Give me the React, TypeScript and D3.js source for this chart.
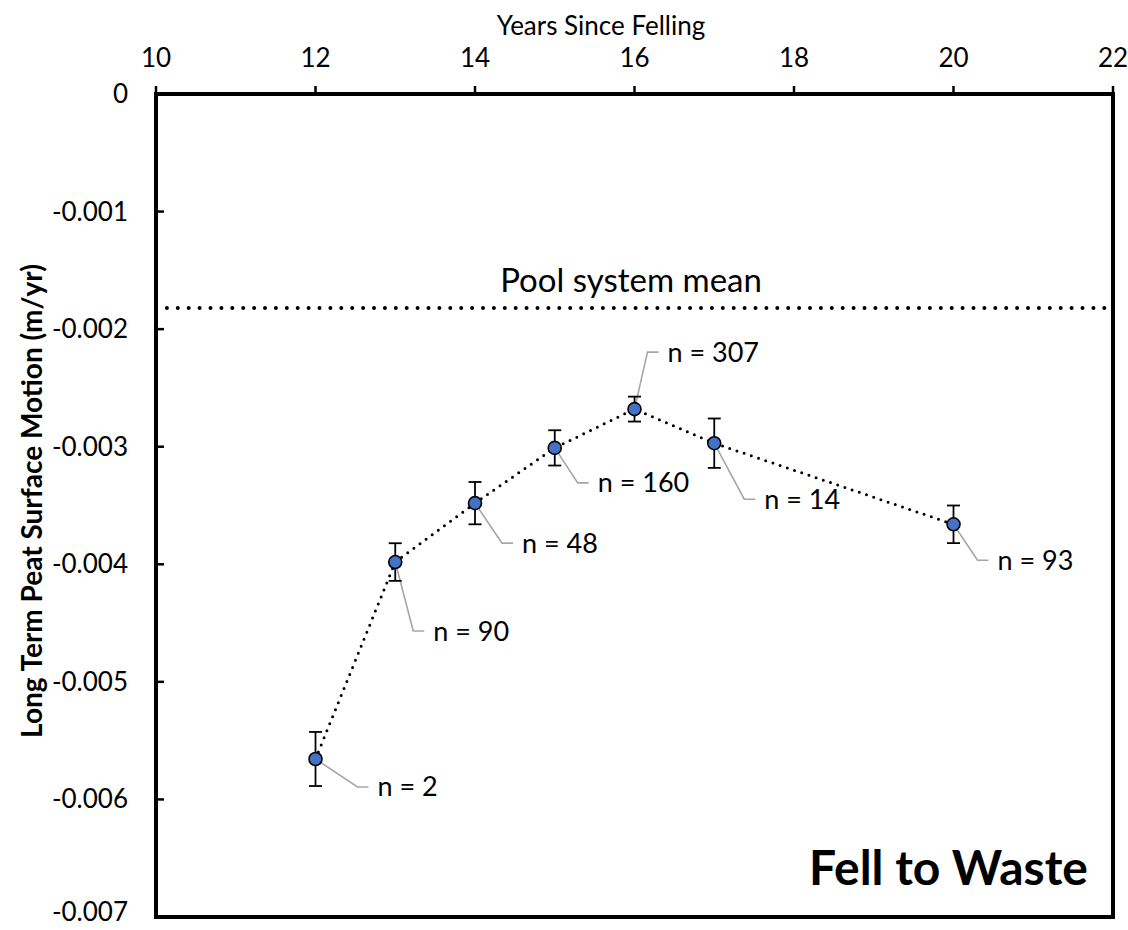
import React from "react";
import * as d3 from "d3";

// Years since felling and mean long-term peat surface motion (m/yr)
const years = [12, 13, 14, 15, 16, 17, 20];
const motion = [-0.005656, -0.003981, -0.00348, -0.00301, -0.00268, -0.00297, -0.00366];
const stdErrors = [0.00023, 0.00016, 0.00018, 0.00015, 0.000106, 0.00021, 0.00016];
const sampleSizes = [2, 90, 48, 160, 307, 14, 93];
const poolSystemMean = -0.00182;

const xTicks = [10, 12, 14, 16, 18, 20, 22];
const yTicks = [0, -0.001, -0.002, -0.003, -0.004, -0.005, -0.006, -0.007];

// Leader-line elbow offsets (px) for each "n =" callout
const calloutOffsets: [number, number][] = [
  [42, 28],
  [18, 69],
  [27, 40],
  [23, 35],
  [13, -57],
  [30, 56],
  [24, 36],
];

const W = 1128;
const H = 930;
const plot = { left: 156, right: 1113, top: 94, bottom: 917 };
const FONT = "Lato, 'Open Sans', sans-serif";

export default function App() {
  const x = d3.scaleLinear().domain([10, 22]).range([plot.left, plot.right]);
  const y = d3.scaleLinear().domain([0, -0.007]).range([plot.top, plot.bottom]);

  const line = d3
    .line<number>()
    .x((_, i) => x(years[i]))
    .y((v) => y(v));

  return (
    <svg
      width={W}
      height={H}
      style={{ position: "absolute", left: 0, top: 0, background: "#fff" }}
      fontFamily={FONT}
    >
      <rect width={W} height={H} fill="#fff" />

      {/* Pool system mean reference */}
      <line
        x1={plot.left}
        x2={plot.right}
        y1={y(poolSystemMean)}
        y2={y(poolSystemMean)}
        stroke="#000"
        strokeWidth={4}
        strokeDasharray="0 10.9"
        strokeLinecap="round"
      />
      <text x={631} y={y(poolSystemMean) - 16} fontSize={33} textAnchor="middle" fill="#000">
        Pool system mean
      </text>

      {/* Series line */}
      <path
        d={line(motion) || ""}
        fill="none"
        stroke="#000"
        strokeWidth={3}
        strokeDasharray="0 7.6"
        strokeLinecap="round"
      />

      {/* Callout leaders and labels */}
      {motion.map((v, i) => {
        const px = x(years[i]);
        const py = y(v);
        const [dx, dy] = calloutOffsets[i];
        const ex = px + dx;
        const ey = py + dy;
        return (
          <g key={"c" + i}>
            <polyline
              points={`${px},${py} ${ex},${ey} ${ex + 11},${ey}`}
              fill="none"
              stroke="#A6A6A6"
              strokeWidth={1.6}
            />
            <text x={ex + 20} y={ey} dy="0.35em" fontSize={27} fill="#000">
              {`n = ${sampleSizes[i]}`}
            </text>
          </g>
        );
      })}

      {/* Error bars */}
      {motion.map((v, i) => {
        const px = x(years[i]);
        const top = y(v + stdErrors[i]);
        const bot = y(v - stdErrors[i]);
        return (
          <g key={"e" + i} stroke="#000" strokeWidth={1.8}>
            <line x1={px} x2={px} y1={top} y2={bot} />
            <line x1={px - 6.5} x2={px + 6.5} y1={top} y2={top} />
            <line x1={px - 6.5} x2={px + 6.5} y1={bot} y2={bot} />
          </g>
        );
      })}

      {/* Markers */}
      {motion.map((v, i) => (
        <circle
          key={"m" + i}
          cx={x(years[i])}
          cy={y(v)}
          r={6.5}
          fill="#4472C4"
          stroke="#000"
          strokeWidth={1.6}
        />
      ))}

      {/* Frame */}
      <rect
        x={plot.left}
        y={plot.top}
        width={plot.right - plot.left}
        height={plot.bottom - plot.top}
        fill="none"
        stroke="#000"
        strokeWidth={4}
      />

      {/* Top x axis */}
      {xTicks.map((t) => (
        <g key={"xt" + t}>
          <line x1={x(t)} x2={x(t)} y1={plot.top} y2={plot.top - 8} stroke="#000" strokeWidth={2.5} />
          <text x={x(t)} y={67} fontSize={26} textAnchor="middle" fill="#000">
            {t}
          </text>
        </g>
      ))}
      <text x={601} y={35} fontSize={26} textAnchor="middle" fill="#000">
        Years Since Felling
      </text>

      {/* Left y axis; the bottom label is kept inside the canvas */}
      {yTicks.map((t) => (
        <g key={"yt" + t}>
          <line x1={plot.left} x2={plot.left + 8} y1={y(t)} y2={y(t)} stroke="#000" strokeWidth={2.5} />
          <text
            x={128}
            y={Math.min(y(t) + 9, 921)}
            fontSize={26}
            textAnchor="end"
            fill="#000"
          >
            {t === 0 ? "0" : d3.format(".3f")(t).replace("−", "-")}
          </text>
        </g>
      ))}
      <text
        transform={`translate(32, ${(227 + 775) / 2}) rotate(-90)`}
        fontSize={28}
        fontWeight="bold"
        textAnchor="middle"
        dy="0.35em"
        fill="#000"
      >
        Long Term Peat Surface Motion (m/yr)
      </text>

      {/* Panel title */}
      <text x={1088} y={885} fontSize={48} fontWeight="bold" textAnchor="end" fill="#000">
        Fell to Waste
      </text>
    </svg>
  );
}
